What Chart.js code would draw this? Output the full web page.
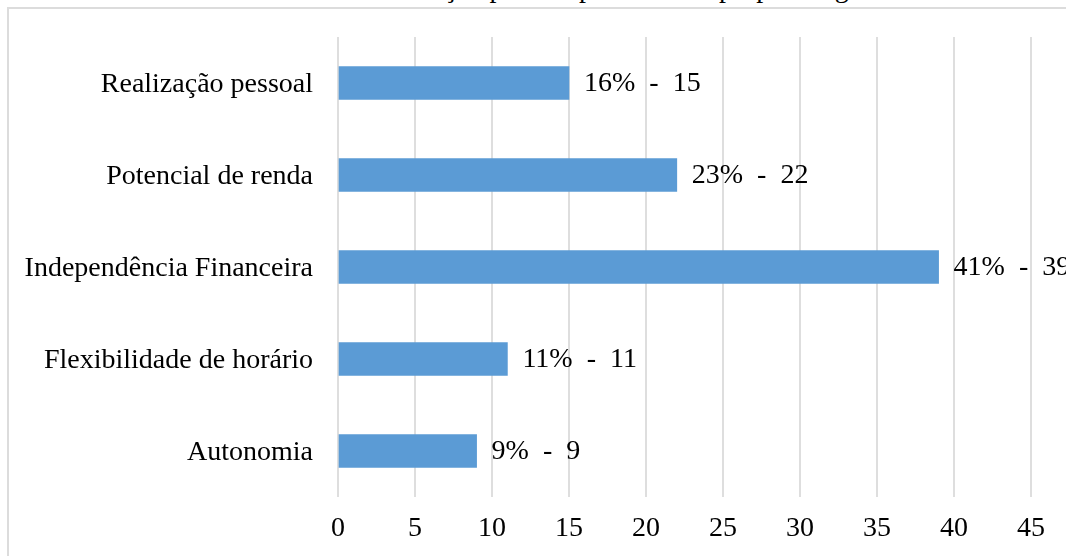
<!DOCTYPE html>
<html>
<head>
<meta charset="utf-8">
<script src="https://cdn.jsdelivr.net/npm/chart.js@4"></script>
<style>
  html, body { margin: 0; padding: 0; background: #fff; overflow: hidden; }
  #wrap { position: relative; width: 1066px; height: 556px; overflow: hidden; }
  #frame { position: absolute; left: 7px; top: 7px; width: 2000px; height: 2000px; border: 2px solid #dcdcdc; }
  #title { position: absolute; left: 32px; top: -26px; width: 1066px; text-align: center; line-height: 28px;
           font-family: "Liberation Serif", serif; font-size: 28px; color: #000; }
  canvas { position: absolute; left: 0; top: 0; }
</style>
</head>
<body>
<div id="wrap">
  <div id="frame"></div>
  <div id="title">Gráfico 3 - Motivação para empreender no próprio negócio</div>
  <canvas id="canvas" width="1066" height="556"></canvas>
</div>
<script>
// data
var categories = ['Realização pessoal', 'Potencial de renda', 'Independência Financeira', 'Flexibilidade de horário', 'Autonomia'];
var counts = [15, 22, 39, 11, 9];
var percents = [16, 23, 41, 11, 9];
var xTicks = [0, 5, 10, 15, 20, 25, 30, 35, 40, 45];

var font = "Liberation Serif";

// write "16%  -  15" after each bar
var barLabels = {
  id: 'barLabels',
  afterDatasetsDraw: function(chart){
    var ctx = chart.ctx;
    var meta = chart.getDatasetMeta(0);
    ctx.save();
    ctx.font = '28px "' + font + '"';
    ctx.fillStyle = '#000';
    ctx.textBaseline = 'middle';
    ctx.textAlign = 'left';
    meta.data.forEach(function(bar, i){
      ctx.fillText(percents[i] + '%  -  ' + counts[i], bar.x + 15, bar.y + 1);
    });
    ctx.restore();
  }
};

const ctx = document.getElementById('canvas').getContext('2d');
const myChart = new Chart(ctx, {
  type: 'bar',
  data: {
    labels: categories,
    datasets: [{
      data: counts,
      backgroundColor: '#5b9bd5',
      borderWidth: 0,
      barThickness: 33
    }]
  },
  options: {
    indexAxis: 'y',
    responsive: false,
    animation: false,
    layout: { padding: { left: 0, right: 35, top: 37, bottom: 0 } },
    plugins: {
      legend: { display: false },
      tooltip: { enabled: false }
    },
    scales: {
      x: {
        min: 0,
        max: 45,
        afterBuildTicks: function(scale){
          scale.ticks = xTicks.map(function(v){ return { value: v }; });
        },
        afterFit: function(scale){ scale.height = 59; },
        grid: { color: '#dedede', lineWidth: 2, drawTicks: false },
        border: { display: false },
        ticks: {
          padding: 15,
          color: '#000',
          font: { family: font, size: 28 }
        }
      },
      y: {
        afterFit: function(scale){ scale.width = 338; },
        grid: { display: false },
        border: { display: false },
        ticks: {
          padding: 17,
          labelOffset: 2,
          color: '#000',
          font: { family: font, size: 28 }
        }
      }
    }
  },
  plugins: [barLabels]
});
</script>
</body>
</html>
